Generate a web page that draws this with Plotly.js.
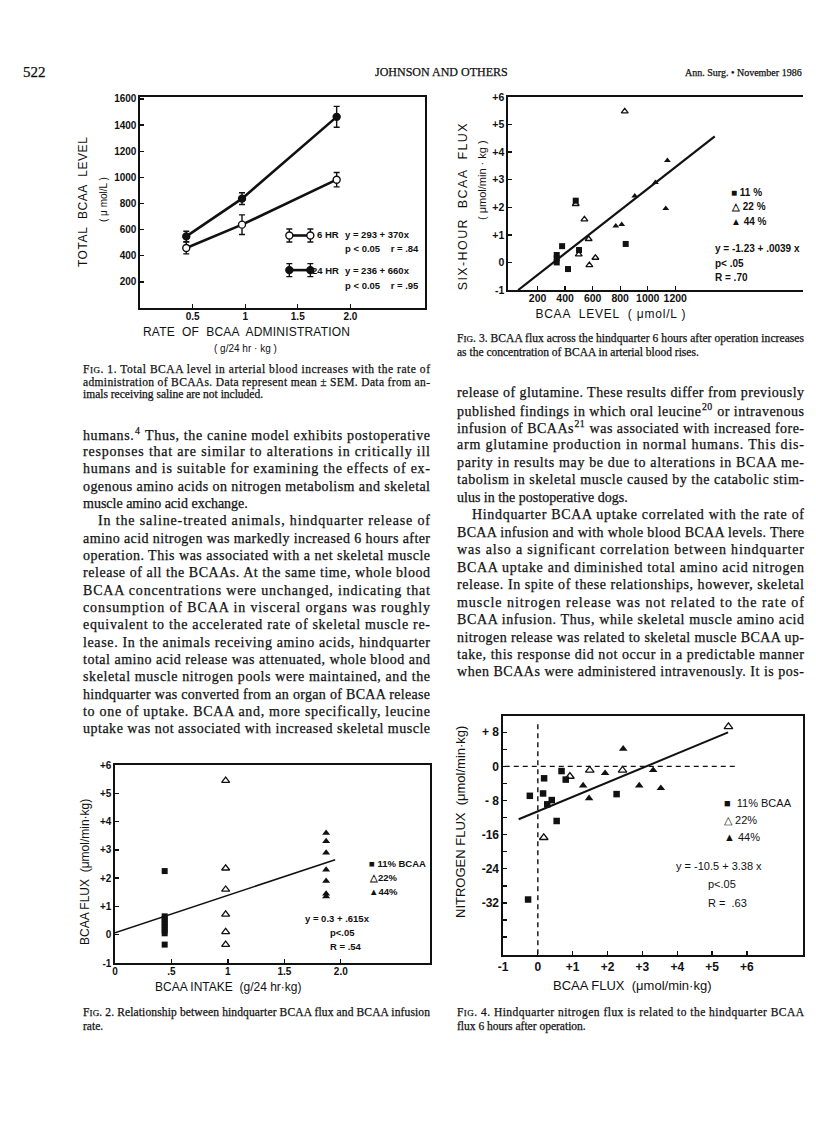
<!DOCTYPE html>
<html><head><meta charset="utf-8">
<script src="https://cdn.plot.ly/plotly-3.0.1.min.js"></script>
<style>html,body{margin:0;padding:0;background:#fff}#chart{width:816px;height:1133px}</style>
</head><body><div id="chart"></div>
<script>
// ---------- DATA ----------
// Fig 1: total BCAA level vs rate of administration (mean ± SEM)
const fig1Rate = [0.44, 0.97, 1.87];
const fig1Level6h = [459, 638, 982];
const fig1Sem6h = [45, 75, 55];
const fig1Level24h = [548, 837, 1463];
const fig1Sem24h = [40, 45, 80];
const fig1KeyX = [1.42, 1.62];
const fig1Key6hY = [555, 555];
const fig1Key24hY = [290, 290];
const fig1KeyErr = [50, 50];
const fig1XTicks = [0.5, 1, 1.5, 2];
const fig1XLabels = ["0.5", "1", "1.5", "2.0"];
const fig1YTicks = [200, 400, 600, 800, 1000, 1200, 1400, 1600];
const fig1YLabels = ["200", "400", "600", "800", "1000", "1200", "1400", "1600"];

// Fig 2: BCAA flux vs BCAA intake
const fig2X11 = [0.44, 0.44, 0.44, 0.44, 0.44, 0.44, 0.44, 0.44, 0.44];
const fig2Y11 = [2.25, 0.65, 0.55, 0.45, 0.35, 0.25, 0.15, 0.05, -0.35];
const fig2X22 = [0.98, 0.98, 0.98, 0.98, 0.98, 0.98];
const fig2Y22 = [5.45, 2.35, 1.6, 0.72, 0.1, -0.35];
const fig2X44 = [1.87, 1.87, 1.87, 1.87, 1.87, 1.87, 1.87];
const fig2Y44 = [3.6, 3.3, 2.9, 2.3, 1.9, 1.45, 1.35];
const fig2LineX = [0, 1.95];
const fig2LineY = [0.07, 2.65];
const fig2XTicks = [0, 0.5, 1, 1.5, 2];
const fig2XLabels = ["0", ".5", "1", "1.5", "2.0"];
const fluxTicks = [-1, 0, 1, 2, 3, 4, 5, 6];
const fluxLabels = ["-1", "0", "+1", "+2", "+3", "+4", "+5", "+6"];

// Fig 3: six-hour BCAA flux vs BCAA level
const fig3X11 = [477, 378, 339, 339, 339, 501, 421, 840];
const fig3Y11 = [2.24, 0.59, 0.27, 0.15, 0.0, 0.45, -0.24, 0.67];
const fig3X22 = [833, 477, 540, 571, 499, 576, 620];
const fig3Y22 = [5.48, 2.12, 1.56, 0.85, 0.29, -0.1, 0.17];
const fig3X44 = [1143, 1056, 906, 1131, 768, 811];
const fig3Y44 = [3.7, 2.9, 2.41, 1.96, 1.32, 1.38];
const fig3LineX = [59, 1487];
const fig3LineY = [-1.0, 4.57];
const fig3XTicks = [200, 400, 600, 800, 1000, 1200];
const fig3XLabels = ["200", "400", "600", "800", "1000", "1200"];

// Fig 4: nitrogen flux vs BCAA flux
const fig4X11 = [-0.23, 0.18, 0.15, 0.27, 0.40, 0.68, 0.80, 0.54, 2.26, -0.28];
const fig4Y11 = [-6.9, -2.8, -6.35, -8.9, -7.9, -1.1, -3.1, -12.8, -6.5, -31.2];
const fig4X22 = [5.47, 0.92, 1.49, 2.43, 0.17];
const fig4Y22 = [9.3, -2.35, -0.9, -0.9, -16.7];
const fig4X44 = [2.45, 1.30, 1.47, 1.93, 2.91, 3.31, 3.53];
const fig4Y44 = [4.1, -4.5, -7.5, -1.6, -4.5, -0.9, -5.1];
const fig4LineX = [-0.55, 5.46];
const fig4LineY = [-12.4, 7.96];
const fig4RefVX = [0, 0];
const fig4RefVY = [-44, 10.4];
const fig4RefHX = [-0.95, 5.66];
const fig4RefHY = [0, 0];
const fig4XTicks = [-1, 0, 1, 2, 3, 4, 5, 6];
const fig4XLabels = ["-1", "0", "+1", "+2", "+3", "+4", "+5", "+6"];
const fig4YTicks = [-32, -24, -16, -8, 0, 8];
const fig4YLabels = ["-32", "-24", "-16", "- 8", "0", "+ 8"];
const fig4YMinorTicks = [-40, -36, -28, -20, -12, -4, 4];

// Text
const headerLeft = "522";
const headerMid = "JOHNSON AND OTHERS";
const headerRight = "Ann. Surg. • November 1986";
const cap1 = ["F<span style='font-size:9px'>IG</span>. 1. Total BCAA level in arterial blood increases with the rate of",
  "administration of BCAAs. Data represent mean ± SEM. Data from an-",
  "imals receiving saline are not included."];
const cap2 = ["F<span style='font-size:9px'>IG</span>. 2. Relationship between hindquarter BCAA flux and BCAA infusion", "rate."];
const cap3 = ["F<span style='font-size:9px'>IG</span>. 3. BCAA flux across the hindquarter 6 hours after operation increases",
  "as the concentration of BCAA in arterial blood rises."];
const cap4 = ["F<span style='font-size:9px'>IG</span>. 4. Hindquarter nitrogen flux is related to the hindquarter BCAA",
  "flux 6 hours after operation."];
const leftText = [
  "humans.<sup>4</sup> Thus, the canine model exhibits postoperative",
  "responses that are similar to alterations in critically ill",
  "humans and is suitable for examining the effects of ex-",
  "ogenous amino acids on nitrogen metabolism and skeletal",
  "muscle amino acid exchange.",
  "In the saline-treated animals, hindquarter release of",
  "amino acid nitrogen was markedly increased 6 hours after",
  "operation. This was associated with a net skeletal muscle",
  "release of all the BCAAs. At the same time, whole blood",
  "BCAA concentrations were unchanged, indicating that",
  "consumption of BCAA in visceral organs was roughly",
  "equivalent to the accelerated rate of skeletal muscle re-",
  "lease. In the animals receiving amino acids, hindquarter",
  "total amino acid release was attenuated, whole blood and",
  "skeletal muscle nitrogen pools were maintained, and the",
  "hindquarter was converted from an organ of BCAA release",
  "to one of uptake. BCAA and, more specifically, leucine",
  "uptake was not associated with increased skeletal muscle"];
const leftIndent = [5];
const leftRagged = [4];
const rightText = [
  "release of glutamine. These results differ from previously",
  "published findings in which oral leucine<sup>20</sup> or intravenous",
  "infusion of BCAAs<sup>21</sup> was associated with increased fore-",
  "arm glutamine production in normal humans. This dis-",
  "parity in results may be due to alterations in BCAA me-",
  "tabolism in skeletal muscle caused by the catabolic stim-",
  "ulus in the postoperative dogs.",
  "Hindquarter BCAA uptake correlated with the rate of",
  "BCAA infusion and with whole blood BCAA levels. There",
  "was also a significant correlation between hindquarter",
  "BCAA uptake and diminished total amino acid nitrogen",
  "release. In spite of these relationships, however, skeletal",
  "muscle nitrogen release was not related to the rate of",
  "BCAA infusion. Thus, while skeletal muscle amino acid",
  "nitrogen release was related to skeletal muscle BCAA up-",
  "take, this response did not occur in a predictable manner",
  "when BCAAs were administered intravenously. It is pos-"];
const rightIndent = [7];
const rightRagged = [6];

// ---------- LAYOUT HELPERS ----------
const W = 816, H = 1133;
const INK = '#111111';
const SANS = 'Liberation Sans, Arial, sans-serif';
const SERIF = 'Liberation Serif, Times New Roman, serif';
const PX = x => x / W, PY = y => 1 - y / H;
const annotations = [], fits = [], heavy = [];
function txt(x, y, text, o = {}) {
  const xa = o.xa || 'left';
  annotations.push({xref: 'paper', yref: 'paper', x: PX(x), y: PY(y), text, showarrow: false,
    xanchor: xa, yanchor: 'middle', align: xa, textangle: o.rot || 0, borderpad: 0,
    font: {family: o.f || SANS, size: o.s || 11, color: INK, weight: o.b ? 700 : 400}});
  fits.push(o.w || 0);
  heavy.push(o.f === SERIF);
}
function ax(pxA, pxB, range, tv, tt, o = {}) {
  const a = {domain: o.vert ? [PY(pxB), PY(pxA)] : [PX(pxA), PX(pxB)], range, tickmode: 'array',
    tickvals: tv, ticktext: tt, showline: true, linecolor: INK, linewidth: 1.6,
    mirror: o.mirror === undefined ? true : o.mirror, ticks: 'inside', ticklen: 4, tickwidth: 1.3,
    tickcolor: INK, showgrid: false, zeroline: false, anchor: o.anchor, fixedrange: true,
    ticklabelstandoff: o.standoff === undefined ? 0 : o.standoff,
    tickfont: {family: SANS, size: o.fs || 10, color: INK, weight: 700}};
  if (o.minor) a.minor = {tickmode: 'array', tickvals: o.minor, ticks: 'inside', ticklen: 4, tickwidth: 1.3, tickcolor: INK, showgrid: false};
  return a;
}

// ---------- TRACES ----------
const data = [];
function sc(x, y, xa, ya, sym, size) {
  data.push({x, y, xaxis: xa, yaxis: ya, type: 'scatter', mode: 'markers', hoverinfo: 'skip',
    marker: {symbol: sym, size, color: INK, line: {color: INK, width: sym.includes('open') ? 1.3 : 0}}});
}
function ln(x, y, xa, ya, width, dash) {
  data.push({x, y, xaxis: xa, yaxis: ya, type: 'scatter', mode: 'lines', hoverinfo: 'skip',
    line: {color: INK, width, dash: dash || 'solid'}});
}
function errSeries(x, y, err, open, xa, ya, lw) {
  data.push({x, y, xaxis: xa, yaxis: ya, type: 'scatter', mode: 'lines+markers', hoverinfo: 'skip',
    line: {color: INK, width: lw},
    marker: {symbol: 'circle', size: 7, color: open ? '#fff' : INK, line: {color: INK, width: 1.4}},
    error_y: {type: 'data', array: err, visible: true, color: INK, thickness: 1.4, width: 3}});
}
// Fig 1
errSeries(fig1Rate, fig1Level6h, fig1Sem6h, true, 'x', 'y', 2.6);
errSeries(fig1Rate, fig1Level24h, fig1Sem24h, false, 'x', 'y', 2.6);
errSeries(fig1KeyX, fig1Key6hY, fig1KeyErr, true, 'x', 'y', 2.6);
errSeries(fig1KeyX, fig1Key24hY, fig1KeyErr, false, 'x', 'y', 2.6);
// Fig 2
ln(fig2LineX, fig2LineY, 'x3', 'y3', 1.6);
sc(fig2X11, fig2Y11, 'x3', 'y3', 'square', 6);
sc(fig2X22, fig2Y22, 'x3', 'y3', 'triangle-up-open', 7);
sc(fig2X44, fig2Y44, 'x3', 'y3', 'triangle-up', 7);
// Fig 3
ln(fig3LineX, fig3LineY, 'x2', 'y2', 2.2);
sc(fig3X11, fig3Y11, 'x2', 'y2', 'square', 6);
sc(fig3X22, fig3Y22, 'x2', 'y2', 'triangle-up-open', 6);
sc(fig3X44, fig3Y44, 'x2', 'y2', 'triangle-up', 6);
// Fig 4
ln(fig4RefVX, fig4RefVY, 'x4', 'y4', 1.4, '5px,4px');
ln(fig4RefHX, fig4RefHY, 'x4', 'y4', 1.4, '5px,4px');
ln(fig4LineX, fig4LineY, 'x4', 'y4', 2.0);
sc(fig4X11, fig4Y11, 'x4', 'y4', 'square', 6.5);
sc(fig4X22, fig4Y22, 'x4', 'y4', 'triangle-up-open', 7.5);
sc(fig4X44, fig4Y44, 'x4', 'y4', 'triangle-up', 7.5);

// ---------- TEXT ----------
txt(22, 72, headerLeft, {f: SERIF, s: 15});
txt(442, 72, headerMid, {f: SERIF, s: 12, xa: 'center'});
txt(803, 72, headerRight, {f: SERIF, s: 10, xa: 'right'});

// Fig 1 titles & key
txt(83, 202, 'TOTAL  BCAA  LEVEL', {rot: -90, xa: 'center', s: 12, w: 130});
txt(103, 200, '( μ mol/L )', {rot: -90, xa: 'center', s: 10});
txt(246, 332, 'RATE  OF  BCAA  ADMINISTRATION', {xa: 'center', s: 12, w: 207});
txt(245, 348, '( g/24 hr · kg )', {xa: 'center', s: 10});
txt(316, 235, '6 HR', {s: 9.5, b: true});
txt(344, 235, 'y = 293 + 370x', {s: 9.5, b: true});
txt(344, 249, 'p < 0.05    r = .84', {s: 9.5, b: true});
txt(311, 271, '24 HR', {s: 9.5, b: true});
txt(344, 271, 'y = 236 + 660x', {s: 9.5, b: true});
txt(344, 285, 'p < 0.05    r = .95', {s: 9.5, b: true});

// Fig 3 titles & key
txt(463, 207, 'SIX-HOUR  BCAA  FLUX', {rot: -90, xa: 'center', s: 12.5, w: 167});
txt(482, 180, '( μmol/min · kg )', {rot: -90, xa: 'center', s: 11});
txt(610, 314, 'BCAA  LEVEL  ( μmol/L )', {xa: 'center', s: 12, w: 150});
txt(730, 193, '■ 11 %', {s: 10, b: true});
txt(730, 207, '△ 22 %', {s: 10, b: true});
txt(730, 221, '▲ 44 %', {s: 10, b: true});
txt(714, 249, 'y = -1.23 + .0039 x', {s: 10, b: true});
txt(714, 263, 'p< .05', {s: 10, b: true});
txt(714, 277, 'R = .70', {s: 10, b: true});

// Fig 2 titles & key
txt(85, 872, 'BCAA FLUX  (μmol/min·kg)', {rot: -90, xa: 'center', s: 12});
txt(228, 987, 'BCAA INTAKE  (g/24 hr·kg)', {xa: 'center', s: 12});
txt(368, 863, '■ 11% BCAA', {s: 9.5, b: true});
txt(368, 877, '△22%', {s: 9.5, b: true});
txt(368, 891, '▲44%', {s: 9.5, b: true});
txt(304, 918, 'y = 0.3 + .615x', {s: 9.5, b: true});
txt(329, 932, 'p<.05', {s: 9.5, b: true});
txt(329, 946, 'R = .54', {s: 9.5, b: true});

// Fig 4 titles & key
txt(460, 822, 'NITROGEN FLUX  (μmol/min·kg)', {rot: -90, xa: 'center', s: 13});
txt(632, 985, 'BCAA FLUX  (μmol/min·kg)', {xa: 'center', s: 13});
txt(723, 803, '■  11% BCAA', {s: 11});
txt(723, 820, '△ 22%', {s: 11});
txt(723, 837, '▲ 44%', {s: 11});
txt(675, 866, 'y = -10.5 + 3.38 x', {s: 11});
txt(707, 884, 'p<.05', {s: 11});
txt(707, 903, 'R =  .63', {s: 11});

// Captions
const COLW = 347, LX = 82, RX = 456;
cap1.forEach((t, i) => txt(LX, 369 + 13 * i, t, {f: SERIF, s: 11.5, w: i < 2 ? COLW : 0}));
cap3.forEach((t, i) => txt(RX, 338 + 14 * i, t, {f: SERIF, s: 11.5, w: i < 1 ? COLW : 0}));
cap2.forEach((t, i) => txt(LX, 1012 + 14 * i, t, {f: SERIF, s: 11.5, w: i < 1 ? COLW : 0}));
cap4.forEach((t, i) => txt(RX, 1012 + 14 * i, t, {f: SERIF, s: 11.5, w: i < 1 ? COLW : 0}));

// Body text
leftText.forEach((t, i) => {
  const ind = leftIndent.includes(i) ? 15 : 0;
  txt(LX + ind, 434 + 17.35 * i, t, {f: SERIF, s: 14, w: leftRagged.includes(i) ? 0 : COLW - ind});
});
rightText.forEach((t, i) => {
  const ind = rightIndent.includes(i) ? 15 : 0;
  txt(RX + ind, 392 + 17.5 * i, t, {f: SERIF, s: 14, w: rightRagged.includes(i) ? 0 : COLW - ind});
});

// ---------- LAYOUT ----------
const layout = {
  width: W, height: H, margin: {l: 0, r: 0, t: 0, b: 0}, paper_bgcolor: '#fff', plot_bgcolor: 'rgba(0,0,0,0)',
  showlegend: false, annotations,
  xaxis: ax(140, 425, [0, 2.71], fig1XTicks, fig1XLabels, {anchor: 'y', standoff: -2}),
  yaxis: ax(97, 308, [0, 1615], fig1YTicks, fig1YLabels, {anchor: 'x', vert: true}),
  xaxis2: ax(508, 803, [-15, 2128], fig3XTicks, fig3XLabels, {anchor: 'y2', fs: 10.5, standoff: -2}),
  yaxis2: ax(97, 290, [-1, 6], fluxTicks, fluxLabels, {anchor: 'x2', vert: true, mirror: false, fs: 10.5}),
  xaxis3: ax(115, 430, [0, 2.79], fig2XTicks, fig2XLabels, {anchor: 'y3', standoff: -2}),
  yaxis3: ax(765, 963, [-1, 6], fluxTicks, fluxLabels, {anchor: 'x3', vert: true}),
  xaxis4: ax(503, 803, [-1, 7.61], fig4XTicks, fig4XLabels, {anchor: 'y4', fs: 12, standoff: 0}),
  yaxis4: ax(716, 955, [-44.2, 11.8], fig4YTicks, fig4YLabels, {anchor: 'x4', vert: true, fs: 12, minor: fig4YMinorTicks})
};

Plotly.newPlot('chart', data, layout, {staticPlot: true, displayModeBar: false}).then(gd => {
  gd.querySelectorAll('.annotation').forEach(g => {
    const i = +g.getAttribute('data-index');
    const t = g.querySelector('.annotation-text');
    if (!t) return;
    if (fits[i]) { t.setAttribute('textLength', fits[i]); t.setAttribute('lengthAdjust', 'spacing'); }
    if (heavy[i]) { t.style.stroke = INK; t.style.strokeWidth = '0.25px'; }
  });
});
</script></body></html>
